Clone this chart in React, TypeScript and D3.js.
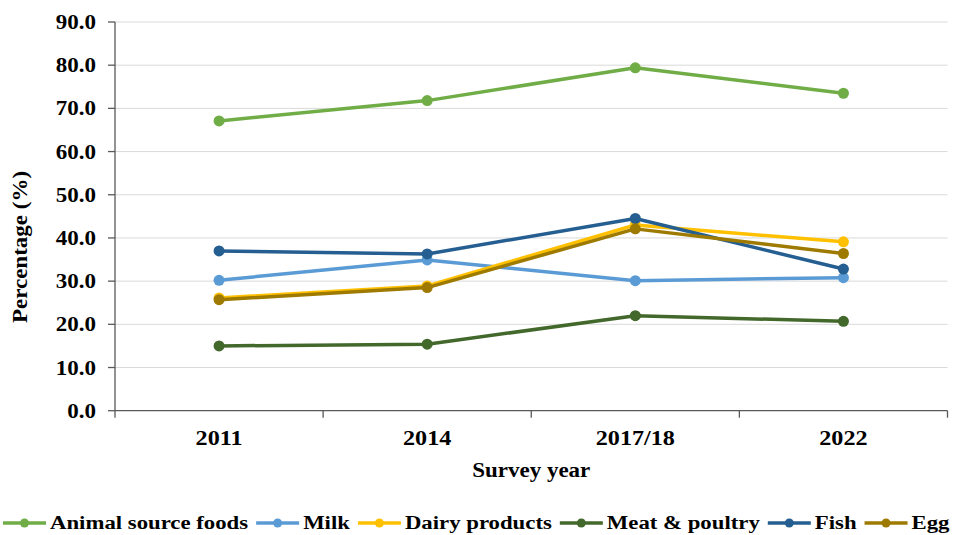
import React, { useEffect, useRef } from "react";
import * as d3 from "d3";

const categories = ["2011", "2014", "2017/18", "2022"];
const seriesNames = ["Animal source foods", "Milk", "Dairy products", "Meat & poultry", "Fish", "Egg"];
const animalSourceFoods = [67.1, 71.8, 79.4, 73.5];
const milk = [30.2, 34.9, 30.1, 30.8];
const dairyProducts = [26.1, 28.9, 43.0, 39.1];
const meatPoultry = [15.0, 15.4, 22.0, 20.7];
const fish = [37.0, 36.3, 44.5, 32.8];
const egg = [25.7, 28.5, 42.1, 36.4];
const yTicks = [0, 10, 20, 30, 40, 50, 60, 70, 80, 90];
const colors = ["#70AD47", "#5B9BD5", "#FFC000", "#43682B", "#255E91", "#9E7A00"];

const W = 960;
const H = 535;
const FONT = "'Liberation Serif', 'Times New Roman', serif";
const SX = 1.15;

export default function App() {
  const ref = useRef<SVGSVGElement | null>(null);

  useEffect(() => {
    const svg = d3.select(ref.current);
    svg.selectAll("*").remove();

    const values = [animalSourceFoods, milk, dairyProducts, meatPoultry, fish, egg];
    const left = 115;
    const right = 947.5;
    const top = 22;
    const bottom = 410.7;

    const x = d3.scaleBand<string>().domain(categories).range([left, right]);
    const y = d3.scaleLinear().domain([0, 90]).range([bottom, top]);

    // gridlines
    svg.append("g")
      .selectAll("line")
      .data(yTicks.filter((t) => t > 0))
      .join("line")
      .attr("x1", left)
      .attr("x2", right)
      .attr("y1", (d) => y(d))
      .attr("y2", (d) => y(d))
      .attr("stroke", "#d9d9d9")
      .attr("stroke-width", 1);

    // y axis
    const ya = svg.append("g");
    ya.append("line").attr("x1", left).attr("x2", left).attr("y1", top).attr("y2", bottom)
      .attr("stroke", "#595959").attr("stroke-width", 1.3);
    ya.selectAll("line.tick").data(yTicks).join("line").attr("class", "tick")
      .attr("x1", left - 7).attr("x2", left).attr("y1", (d) => y(d)).attr("y2", (d) => y(d))
      .attr("stroke", "#595959").attr("stroke-width", 1.3);
    ya.selectAll("text").data(yTicks).join("text")
      .attr("transform", (d) => `translate(96,${y(d)}) scale(${SX},1)`)
      .attr("dy", "0.35em")
      .attr("text-anchor", "end")
      .attr("font-family", FONT).attr("font-weight", "bold").attr("font-size", 20)
      .attr("fill", "#000")
      .text((d) => d3.format(".1f")(d));

    // x axis
    const xa = svg.append("g");
    xa.append("line").attr("x1", left).attr("x2", right).attr("y1", bottom).attr("y2", bottom)
      .attr("stroke", "#595959").attr("stroke-width", 1.3);
    const boundaries = [...categories.map((c) => x(c) as number), right];
    xa.selectAll("line.tick").data(boundaries).join("line").attr("class", "tick")
      .attr("x1", (d) => d).attr("x2", (d) => d).attr("y1", bottom).attr("y2", bottom + 7)
      .attr("stroke", "#595959").attr("stroke-width", 1.3);
    xa.selectAll("text").data(categories).join("text")
      .attr("transform", (d) => `translate(${(x(d) as number) + x.bandwidth() / 2},445) scale(${SX},1)`)
      .attr("text-anchor", "middle")
      .attr("font-family", FONT).attr("font-weight", "bold").attr("font-size", 21)
      .attr("fill", "#000")
      .text((d) => d);

    // axis titles
    svg.append("text")
      .attr("transform", `translate(${(left + right) / 2},477) scale(${SX},1)`)
      .attr("text-anchor", "middle")
      .attr("font-family", FONT).attr("font-weight", "bold").attr("font-size", 20)
      .text("Survey year");
    svg.append("text")
      .attr("transform", `translate(27, 247) rotate(-90) scale(${SX},1)`)
      .attr("text-anchor", "middle")
      .attr("font-family", FONT).attr("font-weight", "bold").attr("font-size", 20)
      .text("Percentage (%)");

    // lines
    const line = d3.line<number>()
      .x((_, i) => (x(categories[i]) as number) + x.bandwidth() / 2)
      .y((d) => y(d));

    values.forEach((vals, si) => {
      const g = svg.append("g");
      g.append("path").attr("d", line(vals) as string)
        .attr("fill", "none").attr("stroke", colors[si]).attr("stroke-width", 3.5)
        .attr("stroke-linejoin", "round");
      g.selectAll("circle").data(vals).join("circle")
        .attr("cx", (_, i) => (x(categories[i]) as number) + x.bandwidth() / 2)
        .attr("cy", (d) => y(d))
        .attr("r", 5.5)
        .attr("fill", colors[si]);
    });

    // legend
    const leg = svg.append("g");
    let cx = 3;
    const ly = 523;
    seriesNames.forEach((name, si) => {
      leg.append("line").attr("x1", cx).attr("x2", cx + 43).attr("y1", ly).attr("y2", ly)
        .attr("stroke", colors[si]).attr("stroke-width", 3.5);
      leg.append("circle").attr("cx", cx + 21.5).attr("cy", ly).attr("r", 4.5).attr("fill", colors[si]);
      const t = leg.append("text")
        .attr("transform", `translate(${cx + 47},529) scale(${SX},1)`)
        .attr("font-family", FONT).attr("font-weight", "bold").attr("font-size", 19.8)
        .attr("fill", "#000").text(name);
      const w = (t.node() as SVGTextElement).getComputedTextLength() * SX;
      cx = cx + 47 + w + 8;
    });
  }, []);

  return (
    <svg
      ref={ref}
      width={W}
      height={H}
      style={{ position: "absolute", left: 0, top: 0, background: "#fff" }}
    />
  );
}
